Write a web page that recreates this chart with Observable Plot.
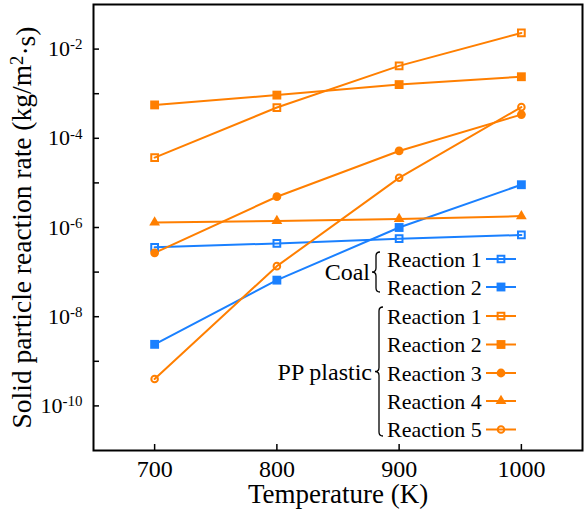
<!DOCTYPE html>
<html>
<head>
<meta charset="utf-8">
<script src="https://cdn.jsdelivr.net/npm/d3@7"></script>
<script src="https://cdn.jsdelivr.net/npm/@observablehq/plot@0.6"></script>
<style>
  html, body { margin: 0; padding: 0; background: #fff; }
  #chart { width: 584px; height: 509px; }
</style>
</head>
<body>
<div id="chart"></div>
<script>
// ---- data ----
const temps = [700, 800, 900, 1000];
const coalR1 = [3.6e-7, 4.4e-7, 5.6e-7, 6.8e-7];
const coalR2 = [2.4e-9, 6.6e-8, 1.0e-6, 9.1e-6];
const ppR1 = [3.7e-5, 4.9e-4, 4.2e-3, 2.3e-2];
const ppR2 = [5.6e-4, 9.3e-4, 1.6e-3, 2.4e-3];
const ppR3 = [2.7e-7, 4.9e-6, 5.2e-5, 3.4e-4];
const ppR4 = [1.3e-6, 1.4e-6, 1.55e-6, 1.8e-6];
const ppR5 = [4.0e-10, 1.36e-7, 1.3e-5, 5.0e-4];
const yLabelTicks = [1e-2, 1e-4, 1e-6, 1e-8, 1e-10];
const yAllTicks = [1e-2, 1e-3, 1e-4, 1e-5, 1e-6, 1e-7, 1e-8, 1e-9, 1e-10];
const groupNames = ["Coal", "PP plastic"];
const seriesLabels = ["Reaction 1", "Reaction 2", "Reaction 1", "Reaction 2", "Reaction 3", "Reaction 4", "Reaction 5"];

const BLUE = "#1a80ff", ORANGE = "#ff7f00";
const series = [
  {key: "coal1", group: 0, values: coalR1, color: BLUE, symbol: "square", filled: false},
  {key: "coal2", group: 0, values: coalR2, color: BLUE, symbol: "square", filled: true},
  {key: "pp1", group: 1, values: ppR1, color: ORANGE, symbol: "square", filled: false},
  {key: "pp2", group: 1, values: ppR2, color: ORANGE, symbol: "square", filled: true},
  {key: "pp3", group: 1, values: ppR3, color: ORANGE, symbol: "circle", filled: true},
  {key: "pp4", group: 1, values: ppR4, color: ORANGE, symbol: "triangle", filled: true},
  {key: "pp5", group: 1, values: ppR5, color: ORANGE, symbol: "circle", filled: false}
];
series.forEach((s, i) => s.label = seriesLabels[i]);

function radius(s) {
  if (s.symbol === "square") return s.filled ? 5.0 : 3.8;
  if (s.symbol === "triangle") return 4.0;
  return s.filled ? 4.4 : 3.3;
}

const rows = series.flatMap(s => temps.map((t, i) => ({key: s.key, T: t, v: s.values[i]})));

const marks = [];
for (const s of series) {
  const d = rows.filter(r => r.key === s.key);
  marks.push(Plot.line(d, {x: "T", y: "v", stroke: s.color, strokeWidth: 2}));
}
for (const s of series) {
  const d = rows.filter(r => r.key === s.key);
  marks.push(Plot.dot(d, {
    x: "T", y: "v", symbol: s.symbol, r: radius(s),
    fill: s.filled ? s.color : "none",
    stroke: s.color, strokeWidth: s.filled ? 0 : 2
  }));
}

const font = "'Liberation Serif', 'Times New Roman', serif";

const plot = Plot.plot({
  width: 584,
  height: 509,
  marginLeft: 93,
  marginRight: 2,
  marginTop: 4,
  marginBottom: 59,
  style: {fontFamily: font, background: "white", color: "black"},
  x: {domain: [650, 1050]},
  y: {type: "log", domain: [1e-11, 1e-1]},
  marks: [
    ...marks,
    Plot.axisX({ticks: temps, tickSize: -6, tickFormat: () => "", label: null, strokeWidth: 1.5}),
    Plot.axisX({ticks: temps, tickSize: 0, tickPadding: 9, fontSize: 24, tickFormat: d => String(d),
      label: "Temperature (K)", labelAnchor: "center", labelArrow: "none", labelOffset: 52}),
    Plot.axisY({ticks: yAllTicks, tickSize: -6, tickFormat: () => "", label: null, strokeWidth: 1.5}),
    Plot.axisY({ticks: yLabelTicks, tickSize: 0, tickPadding: 11, fontSize: 22,
      tickFormat: d => "10^" + Math.round(Math.log10(d)),
      label: "Solid particle reaction rate (kg/m^2·s)", labelAnchor: "center", labelArrow: "none", labelOffset: 82}),
    Plot.frame({stroke: "black", strokeWidth: 2})
  ]
});

document.getElementById("chart").appendChild(plot);
const svg = d3.select(plot);

// superscripts in y tick labels
svg.selectAll('g[aria-label="y-axis tick label"] text').each(function () {
  const t = this.textContent;
  if (!t.includes("^")) return;
  const [base, exp] = t.split("^");
  const sel = d3.select(this);
  sel.text(null);
  sel.append("tspan").text(base);
  sel.append("tspan").attr("dy", "-0.45em").attr("font-size", "0.68em").text(exp);
});

// axis label fonts + superscript
svg.selectAll('g[aria-label="y-axis label"] text').each(function () {
  const sel = d3.select(this);
  sel.attr("font-size", 27.5);
  const t = this.textContent;
  const [a, b] = t.split("^");
  sel.text(null);
  sel.append("tspan").text(a);
  sel.append("tspan").attr("dy", "-0.45em").attr("font-size", "0.68em").text(b.slice(0, 1));
  sel.append("tspan").attr("dy", "0.45em").text(b.slice(1));
});
svg.selectAll('g[aria-label="x-axis label"] text').attr("font-size", 27);

// ---- legend (inside the frame) ----
const lg = svg.append("g")
  .attr("font-family", font).attr("font-size", 22).attr("text-anchor", "start").attr("fill", "black");
const rowY = [259, 287, 316, 344.5, 373, 401, 429.5];
const textX = 387, lineX1 = 486, lineX2 = 516, markX = 501;
series.forEach((s, i) => {
  const y = rowY[i];
  lg.append("text").attr("x", textX).attr("y", y).attr("dy", "0.35em").style("font-family", font).text(s.label);
  lg.append("line").attr("x1", lineX1).attr("x2", lineX2).attr("y1", y).attr("y2", y)
    .attr("stroke", s.color).attr("stroke-width", 2);
  const sym = s.symbol === "square" ? d3.symbolSquare : s.symbol === "triangle" ? d3.symbolTriangle : d3.symbolCircle;
  const r = radius(s);
  lg.append("path").attr("transform", `translate(${markX},${y})`)
    .attr("d", d3.symbol(sym, r * r * Math.PI)())
    .attr("fill", s.filled ? s.color : "none")
    .attr("stroke", s.color).attr("stroke-width", s.filled ? 0 : 2);
});
function brace(x, y1, y2, w) {
  const ym = (y1 + y2) / 2, xm = x + w / 2, r = 4;
  return `M${x + w},${y1} Q${xm},${y1} ${xm},${y1 + r} L${xm},${ym - r} Q${xm},${ym} ${x},${ym}` +
         ` Q${xm},${ym} ${xm},${ym + r} L${xm},${y2 - r} Q${xm},${y2} ${x + w},${y2}`;
}
lg.append("path").attr("d", brace(372, 252, 292, 8)).attr("fill", "none").attr("stroke", "black").attr("stroke-width", 1.3);
lg.append("path").attr("d", brace(375, 307, 436, 8)).attr("fill", "none").attr("stroke", "black").attr("stroke-width", 1.3);
lg.append("text").attr("x", 370).attr("y", 272).attr("dy", "0.35em").attr("text-anchor", "end")
  .style("font-family", font).attr("font-size", 24).text(groupNames[0]);
lg.append("text").attr("x", 372).attr("y", 371.5).attr("dy", "0.35em").attr("text-anchor", "end")
  .style("font-family", font).attr("font-size", 24).text(groupNames[1]);
</script>
</body>
</html>
